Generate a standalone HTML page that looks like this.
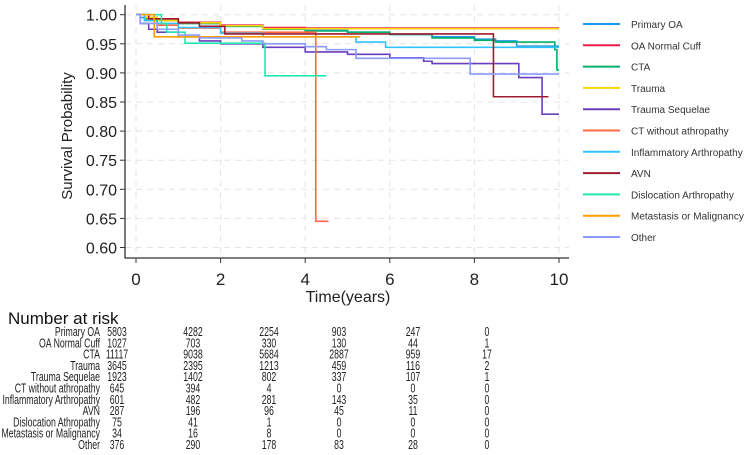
<!DOCTYPE html>
<html><head><meta charset="utf-8"><style>
body{margin:0;background:#fff;}
svg{display:block;font-family:"Liberation Sans",Arial,sans-serif;}
</style></head><body>
<svg id="c" width="756" height="455" viewBox="0 0 756 455">
<g id="grid"></g>
<g id="series"></g>
<g id="axes"></g>
<g id="legend"></g>
<g id="risktitle"></g>
<g id="risk" transform="scale(0.7,1)"></g>
</svg>
<script>
const names=["Primary OA","OA Normal Cuff","CTA","Trauma","Trauma Sequelae","CT without athropathy","Inflammatory Arthropathy","AVN","Dislocation Arthropathy","Metastasis or Malignancy","Other"];
const colors=["#1e9bf0","#e8194d","#00b06a","#ffd400","#6a3fbf","#ff6a45","#33c3ff","#9e1b32","#22e8b0","#ff9f00","#8c9bff"];
const xTicks=[0,2,4,6,8,10];
const yTicks=[1.00,0.95,0.90,0.85,0.80,0.75,0.70,0.65,0.60];
const tPrimary=[0.1,0.5,1,2,3,4,5,6,7,8,8.5,9],sPrimary=[0.995,0.99,0.985,0.98,0.975,0.973,0.97,0.966,0.962,0.958,0.955,0.946];
const tCuff=[0.2,0.5,1,2,3,4],sCuff=[0.995,0.99,0.987,0.982,0.978,0.977];
const tCTA=[0.2,0.5,1,2,3,4,5,6,7,8,8.5,9.9,9.95],sCTA=[0.993,0.99,0.985,0.98,0.975,0.972,0.97,0.966,0.96,0.956,0.953,0.94,0.905];
const tTrauma=[0.2,0.5,1,2,3],sTrauma=[0.995,0.99,0.986,0.981,0.976];
const tSeq=[0.1,0.3,0.5,1,1.5,2,3,4,5,6,6.8,7,9.05,9.6],sSeq=[0.985,0.975,0.97,0.962,0.955,0.95,0.944,0.936,0.932,0.926,0.92,0.916,0.892,0.829];
const tCT=[0.2,0.5,1,2,4.25],sCT=[0.99,0.982,0.977,0.97,0.645];
const tInfl=[0.2,0.5,1,2,3,5.2,5.9],sInfl=[0.99,0.985,0.978,0.968,0.962,0.953,0.944];
const tAVN=[0.3,1,1.5,2.1,8.45],sAVN=[0.993,0.986,0.98,0.967,0.859];
const tDisl=[0.6,0.73,1.16,3.05],sDisl=[0.985,0.97,0.951,0.895];
const tMeta=[0.43],sMeta=[0.962];
const tOther=[0.1,0.5,1,1.5,2.5,3,4,4.5,5.2,7.9],sOther=[0.985,0.975,0.965,0.96,0.955,0.95,0.945,0.94,0.925,0.898];
const ends=[10,10,10,10,10,4.55,10,9.75,4.5,5.3,10];
const risk=[[5803,4282,2254,903,247,0],[1027,703,330,130,44,1],[11117,9038,5684,2887,959,17],[3645,2395,1213,459,116,2],[1923,1402,802,337,107,1],[645,394,4,0,0,0],[601,482,281,143,35,0],[287,196,96,45,11,0],[75,41,1,0,0,0],[34,16,8,0,0,0],[376,290,178,83,28,0]];
const riskNames=["Primary OA","OA Normal Cuff","CTA","Trauma","Trauma Sequelae","CT without athropathy","Inflammatory Arthropathy","AVN","Dislocation Athropathy","Metastasis or Malignancy","Other"];
const T=[tPrimary,tCuff,tCTA,tTrauma,tSeq,tCT,tInfl,tAVN,tDisl,tMeta,tOther];
const S=[sPrimary,sCuff,sCTA,sTrauma,sSeq,sCT,sInfl,sAVN,sDisl,sMeta,sOther];
const NS="http://www.w3.org/2000/svg";
const xs=t=>136+t*42.3, ys=v=>14.7+(1-v)/0.05*29.1;
function mk(tag,attrs,parent,txt){const e=document.createElementNS(NS,tag);for(const k in attrs)e.setAttribute(k,attrs[k]);if(txt!==undefined)e.textContent=txt;parent.appendChild(e);return e;}
const grid=document.getElementById('grid'),axes=document.getElementById('axes'),ser=document.getElementById('series'),leg=document.getElementById('legend'),rk=document.getElementById('risk'),rkt=document.getElementById('risktitle');
yTicks.forEach(v=>{
 const g=mk('line',{x1:125,x2:569,y1:ys(v),y2:ys(v),stroke:'#e4e4e4','stroke-dasharray':'6 5'},grid);
 
 
 const l=mk('line',{x1:120,x2:125,y1:ys(v),y2:ys(v),stroke:'#333'},axes);
 
 
 const tx=mk('text',{x:117,y:ys(v)+6,'text-anchor':'end','font-size':16,fill:'#222'},axes,v.toFixed(2));
 
 
});
xTicks.forEach(t=>{
 const g=mk('line',{x1:xs(t),x2:xs(t),y1:5,y2:258,stroke:'#e4e4e4','stroke-dasharray':'6 5'},grid);
 
 
 const l=mk('line',{x1:xs(t),x2:xs(t),y1:258,y2:263,stroke:'#333'},axes);
 
 
 const tx=mk('text',{x:xs(t),y:285,'text-anchor':'middle','font-size':17,fill:'#222'},axes,String(t));
 
 
});
const ax=mk('path',{d:'M125 5 V258 H569',fill:'none',stroke:'#333','stroke-width':1.3},axes);


const yt=mk('text',{x:0,y:0,transform:'translate(72,136) rotate(-90)','text-anchor':'middle','font-size':15,fill:'#222'},axes,'Survival Probability');


const xt=mk('text',{x:348,y:302,'text-anchor':'middle','font-size':16,fill:'#222'},axes,'Time(years)');


names.forEach((n,i)=>{
 let d='M'+xs(0)+' '+ys(1);
 T[i].forEach((t,j)=>{d+=' H'+xs(t)+' V'+ys(S[i][j]);});
 d+=' H'+xs(ends[i]);
 const p=mk('path',{d:d,fill:'none',stroke:colors[i],'stroke-width':1.6},ser);
 
 
 const y=24+i*21.3;
 const ll=mk('line',{x1:583,x2:620,y1:y,y2:y,stroke:colors[i],'stroke-width':2},leg);
 
 
 const lt=mk('text',{x:631,y:y+4,'font-size':10,fill:'#333'},leg,n);
 
 
});
const rt=mk('text',{x:8,y:324,'font-size':17,fill:'#111'},rkt,'Number at risk');


const colX=[117,193,269,339,413,487];
const sx=0.7;
riskNames.forEach((n,i)=>{
 const y=336+i*11.3;
 const l=mk('text',{x:100/sx,y:y,'text-anchor':'end','font-size':12.5,fill:'#222'},rk,n);
 
 
 risk[i].forEach((v,j)=>{
  const c=mk('text',{x:colX[j]/sx,y:y,'text-anchor':'middle','font-size':12.5,fill:'#222'},rk,String(v));
  
  
 });
});
</script>
</body></html>
